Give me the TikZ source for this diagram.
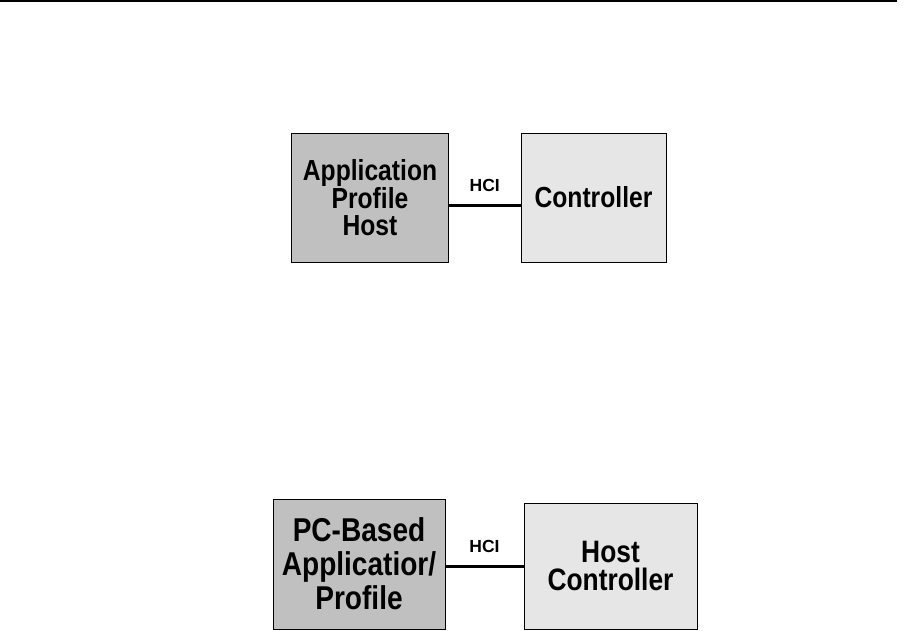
\documentclass[tikz,border=0pt]{standalone}
\usepackage{fontspec}
\setmainfont{Liberation Sans}
\newfontfamily\boxfont[FakeStretch=0.85]{Liberation Sans}
\usetikzlibrary{positioning}
\definecolor{hostgray}{RGB}{192,192,192}
\definecolor{ctrlgray}{RGB}{230,230,230}
\tikzset{
    hoststyle/.style={rectangle, draw=black, fill=hostgray, line width=1pt, align=center, inner sep=0pt},
    ctrlstyle/.style={rectangle, draw=black, fill=ctrlgray, line width=1pt, align=center, inner sep=0pt},
    link/.style={line width=3pt, black},
    hcilbl/.style={font=\fontsize{17.5}{20}\selectfont\bfseries}
}
\begin{document}
\begin{tikzpicture}[x=1pt, y=-1pt,
        topfont/.style={font=\boxfont\fontsize{29}{27}\selectfont\bfseries},
        pcfont/.style={font=\boxfont\fontsize{33}{34}\selectfont\bfseries},
        hcfont/.style={font=\boxfont\fontsize{31}{28.5}\selectfont\bfseries}
    ]
    \useasboundingbox (0,0) rectangle (913,630);
    % Page rule
    \draw[line width=1.5pt] (0,1) -- (897,1);

    % Upper diagram
    \node[hoststyle, topfont, minimum width=157pt, minimum height=129pt] (apphost) at (370,197.5) {Application\\Profile\\Host};
    \node[ctrlstyle, topfont, minimum width=145pt, minimum height=129pt] (ctrl) at (593.5,197.5) {Controller};
    \draw[link] ([yshift=-7.5pt]apphost.east) -- ([yshift=-7.5pt]ctrl.west) node[midway, yshift=20pt, hcilbl] {HCI};

    % Lower diagram
    \node[hoststyle, pcfont, minimum width=172pt, minimum height=130pt] (pcapp) at (359,564) {PC-Based\\Applicatior/\\Profile};
    \node[ctrlstyle, hcfont, minimum width=173pt, minimum height=126pt] (hostctrl) at (610.5,566) {Host\\Controller};
    \draw[link] (pcapp.east |- hostctrl.west) -- (hostctrl.west) node[midway, yshift=20pt, hcilbl] {HCI};
\end{tikzpicture}
\end{document}
